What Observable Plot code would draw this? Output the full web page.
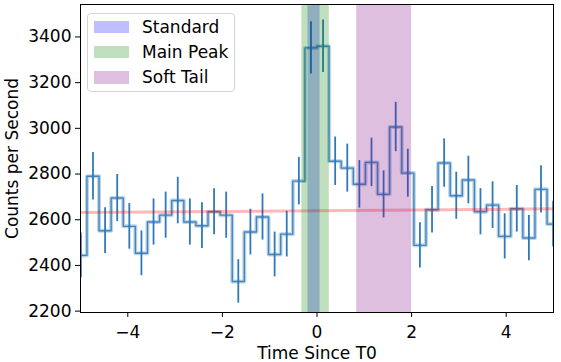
<!DOCTYPE html>
<html>
<head>
<meta charset="utf-8">
<script src="https://cdn.jsdelivr.net/npm/d3@7"></script>
<script src="https://cdn.jsdelivr.net/npm/@observablehq/plot@0.6"></script>
<style>
  html, body { margin: 0; padding: 0; background: #fff; }
  #chart { position: relative; width: 561px; height: 362px; font-family: "DejaVu Sans", sans-serif; }
  #chart svg { display: block; }
  .legend { position: absolute; left: 87px; top: 13px; width: 148px; height: 79px;
            border: 1px solid #d4d4d4; border-radius: 4px; background: rgba(255,255,255,0.8);
            box-sizing: border-box; }
  .legend .row { position: absolute; left: 0; height: 25px; display: flex; align-items: center;
                 font-size: 17px; color: #000; white-space: nowrap; }
  .legend .sw { width: 35px; height: 12.5px; margin-left: 6px; margin-right: 13px; }
</style>
</head>
<body>
<div id="chart"></div>
<script>
// ---- data ----
const binEdges = [-5.120, -4.864, -4.608, -4.352, -4.096, -3.840, -3.584, -3.328, -3.072, -2.816,
                  -2.560, -2.304, -2.048, -1.792, -1.536, -1.280, -1.024, -0.768, -0.512, -0.256,
                  0.000, 0.256, 0.512, 0.768, 1.024, 1.280, 1.536, 1.792, 2.048, 2.304,
                  2.560, 2.816, 3.072, 3.328, 3.584, 3.840, 4.096, 4.352, 4.608, 4.864, 5.120];
const rates = [2444, 2790, 2552, 2695, 2571, 2453, 2590, 2620, 2684, 2590,
               2574, 2635, 2620, 2330, 2546, 2612, 2448, 2537, 2769, 3352,
               3359, 2856, 2826, 2755, 2851, 2711, 3006, 2804, 2488, 2644,
               2848, 2705, 2774, 2635, 2664, 2527, 2648, 2520, 2733, 2581];
const rateErrors = [98, 104, 100, 103, 100, 98, 101, 101, 102, 101,
                    100, 101, 101, 95, 100, 101, 98, 100, 104, 114,
                    115, 106, 105, 104, 106, 103, 108, 105, 99, 102,
                    106, 103, 104, 101, 102, 99, 102, 99, 103, 100];
const bgTimes = [-5.12, 5.12];
const bgRates = [2631, 2648];
const regionNames = ["Standard", "Main Peak", "Soft Tail"];
const regionStarts = [-0.19, -0.32, 0.84];
const regionEnds = [0.065, 0.26, 2.0];
const xTicks = [-4, -2, 0, 2, 4];
const yTicks = [2200, 2400, 2600, 2800, 3000, 3200, 3400];

// ---- styles ----
const regionColors = ["#0000ff", "#008000", "#800080"];

// ---- tables ----
const stepData = binEdges.map((t, i) => ({t, r: rates[Math.min(i, rates.length - 1)]}));
const bins = rates.map((r, i) => ({
  c: (binEdges[i] + binEdges[i + 1]) / 2, lo: r - rateErrors[i], hi: r + rateErrors[i]
}));
const bg = bgTimes.map((t, i) => ({t, r: bgRates[i]}));
const regions = regionNames.map((name, i) => ({name, x1: regionStarts[i], x2: regionEnds[i]}));

const chart = Plot.plot({
  width: 561,
  height: 362,
  marginLeft: 80,
  marginRight: 8,
  marginTop: 4,
  marginBottom: 50,
  style: {fontFamily: "DejaVu Sans, sans-serif", fontSize: "17px", color: "#000", background: "#fff", overflow: "visible"},
  x: {domain: [-5, 5]},
  y: {domain: [2194, 3542]},
  color: {domain: regionNames, range: regionColors},
  marks: [
    Plot.line(stepData, {x: "t", y: "r", curve: "step-after", stroke: "#1f77b4", strokeWidth: 4, strokeOpacity: 0.3, clip: true}),
    Plot.line(stepData, {x: "t", y: "r", curve: "step-after", stroke: "#2c6fb0", strokeWidth: 1.4, strokeOpacity: 0.8, clip: true}),
    Plot.ruleX(bins, {x: "c", y1: "lo", y2: "hi", stroke: "#2f79bb", strokeWidth: 1.8, clip: true}),
    Plot.line(bg, {x: "t", y: "r", stroke: "#ff0000", strokeWidth: 3, strokeOpacity: 0.28, clip: true}),
    Plot.rect(regions, {x1: "x1", x2: "x2", fill: "name", fillOpacity: 0.25, clip: true}),
    Plot.frame({stroke: "#000", strokeWidth: 1}),
    Plot.axisX({ticks: xTicks, tickSize: 5, tickPadding: 8, label: "Time Since T0", labelAnchor: "center", labelOffset: 46, labelArrow: false}),
    Plot.axisY({ticks: yTicks, tickSize: 5, tickPadding: 4, tickFormat: d3.format("d"), label: "Counts per Second", labelAnchor: "center", labelOffset: 75, labelArrow: false})
  ]
});

const root = document.getElementById("chart");
root.appendChild(chart);

// legend (inside the axes, upper left)
const legend = document.createElement("div");
legend.className = "legend";
regionNames.forEach((name, i) => {
  const row = document.createElement("div");
  row.className = "row";
  row.style.top = (0.5 + i * 25.2) + "px";
  const sw = document.createElement("span");
  sw.className = "sw";
  sw.style.background = regionColors[i];
  sw.style.opacity = 0.25;
  const label = document.createElement("span");
  label.textContent = name;
  row.appendChild(sw);
  row.appendChild(label);
  legend.appendChild(row);
});
root.appendChild(legend);
</script>
</body>
</html>
